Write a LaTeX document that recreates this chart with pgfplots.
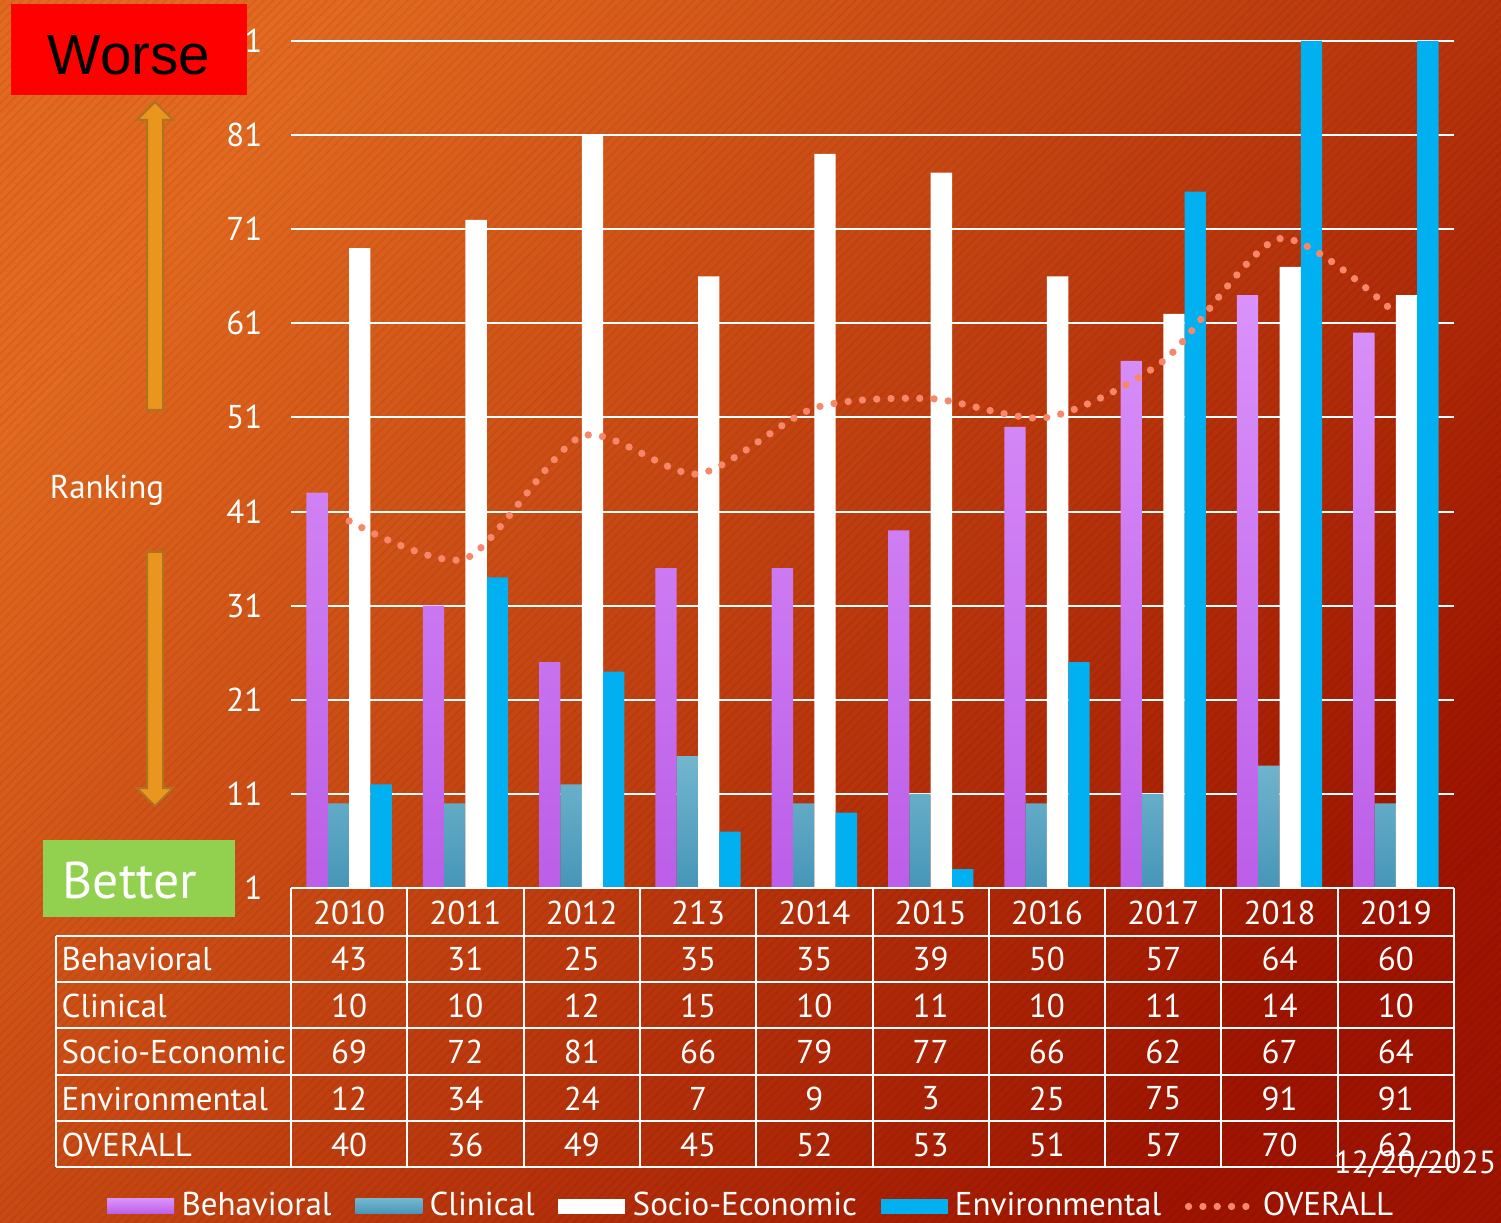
\documentclass[border=0pt]{standalone}
\usepackage{pgfplots}
\pgfplotsset{compat=1.18}
\usepackage{fontspec}
\setmainfont{PT Sans}
\newfontfamily\arialfont{Liberation Sans}
\usetikzlibrary{patterns.meta}
\definecolor{bgA}{HTML}{E2691F}
\definecolor{bgB}{HTML}{9E1400}
\definecolor{behT}{HTML}{DA92FA}
\definecolor{behB}{HTML}{BC5EE8}
\definecolor{cliT}{HTML}{72B6CE}
\definecolor{cliB}{HTML}{4696B8}
\definecolor{envC}{HTML}{00B0F0}
\definecolor{ovC}{HTML}{F7876A}
\definecolor{arrF}{HTML}{EA961E}
\definecolor{arrD}{HTML}{B07220}
\definecolor{betterG}{HTML}{92D050}
\pgfplotsset{
  barleg/.style={legend image code/.code={\path[#1] (0pt,-2.25pt) rectangle (20.1pt,2.25pt);}},
  ovleg/.style={legend image code/.code={\draw[#1] (0pt,0pt) -- (19pt,0pt);}},
}
\begin{document}
\begin{tikzpicture}
\begin{scope}[x=0.3pt,y=-0.3pt]
  \shade[top color=bgA, bottom color=bgB, shading angle=50] (0,0) rectangle (1501,1223);
  \fill[pattern={Lines[angle=45,distance=1.9pt,line width=0.6pt]}, pattern color=black, opacity=0.05] (0,0) rectangle (1501,1223);
\end{scope}
\begin{axis}[
  at={(87.3pt,-266.4pt)}, anchor=south west,
  scale only axis, width=348.9pt, height=254.1pt,
  xmin=-0.5, xmax=9.5, ymin=1, ymax=91,
  ytick={1,11,...,91}, xtick=\empty,
  axis line style={draw=none}, major tick length=0pt,
  ymajorgrids, grid style={white, line width=0.6pt},
  /pgf/number format/assume math mode=true,
  yticklabel style={text=white, font=\fontsize{9.9}{12}\selectfont, anchor=east, inner sep=0pt, xshift=-8.4pt},
  legend columns=5,
  legend style={at={(0.397,-0.376)}, anchor=center, draw=none, fill=none,
    font=\fontsize{9.9}{12}\selectfont, nodes={text=white, inner sep=1.5pt},
    /tikz/every odd column/.append style={column sep=0.7pt},
    /tikz/every even column/.append style={column sep=5.6pt}},
]
\addplot[ybar, bar width=6.4pt, bar shift=-9.6pt, draw=none, top color=behT, bottom color=behB, barleg]
  coordinates {(0,43) (1,31) (2,25) (3,35) (4,35) (5,39) (6,50) (7,57) (8,64) (9,60)};
\addlegendentry{Behavioral}
\addplot[ybar, bar width=6.4pt, bar shift=-3.2pt, draw=none, top color=cliT, bottom color=cliB, barleg]
  coordinates {(0,10) (1,10) (2,12) (3,15) (4,10) (5,11) (6,10) (7,11) (8,14) (9,10)};
\addlegendentry{Clinical}
\addplot[ybar, bar width=6.4pt, bar shift=3.2pt, draw=none, fill=white, barleg]
  coordinates {(0,69) (1,72) (2,81) (3,66) (4,79) (5,77) (6,66) (7,62) (8,67) (9,64)};
\addlegendentry{Socio-Economic}
\addplot[ybar, bar width=6.4pt, bar shift=9.6pt, draw=none, fill=envC, barleg]
  coordinates {(0,12) (1,34) (2,24) (3,7) (4,9) (5,3) (6,25) (7,75) (8,91) (9,91)};
\addlegendentry{Environmental}
\addplot[smooth, tension=0.45, draw=ovC, line width=2.2pt, line cap=round, dash pattern=on 0pt off 4.3pt, ovleg]
  coordinates {(0,40) (1,36) (2,49) (3,45) (4,52) (5,53) (6,51) (7,57) (8,70) (9,62)};
\addlegendentry{OVERALL}
\end{axis}
\begin{scope}[x=0.3pt,y=-0.3pt, every node/.style={font=\fontsize{9.9}{12}\selectfont, text=white}]
  % table grid
  \draw[white, line width=0.6pt] (291,888) -- (1454,888);
  \foreach \yy in {936,982,1028,1075,1121,1167} \draw[white, line width=0.6pt] (56,\yy) -- (1454,\yy);
  \foreach \k in {0,...,10} \draw[white, line width=0.6pt] ({291+116.3*\k},888) -- ({291+116.3*\k},1167);
  \draw[white, line width=0.6pt] (56,936) -- (56,1167);
  \foreach \lab [count=\i from 0] in {2010,2011,2012,213,2014,2015,2016,2017,2018,2019}
    \node at ({349.15+116.3*\i},913) {\lab};
  \foreach \name/\vals [count=\j] in {Behavioral/{43,31,25,35,35,39,50,57,64,60},
      Clinical/{10,10,12,15,10,11,10,11,14,10},
      Socio-Economic/{69,72,81,66,79,77,66,62,67,64},
      Environmental/{12,34,24,7,9,3,25,75,91,91},
      OVERALL/{40,36,49,45,52,53,51,57,70,62}} {
    \node[anchor=west, inner sep=0pt] at (61,{913+46.4*\j}) {\name};
    \foreach \v [count=\i from 0] in \vals
      \node at ({349.15+116.3*\i},{913+46.4*\j}) {\v};
  }
  % date
  \node[anchor=east, inner sep=0pt, font=\fontsize{9.6}{12}\selectfont] at (1497,1164) {12/20/2025};
  % arrows
  \filldraw[fill=arrF, draw=arrD, line width=0.6pt] (147,410) -- (147,120) -- (137,120) -- (155,102) -- (173,120) -- (163,120) -- (163,410) -- cycle;
  \filldraw[fill=arrF, draw=arrD, line width=0.6pt] (147,552) -- (147,788) -- (137,788) -- (155,806) -- (173,788) -- (163,788) -- (163,552) -- cycle;
  \node at (107,490) {Ranking};
  % boxes
  \fill[red] (11,4) rectangle (247,95);
  \node[text=black, font=\arialfont\fontsize{17}{20}\selectfont] at (129,55) {Worse};
  \fill[betterG] (43,840) rectangle (235,917);
  \node[font=\fontsize{15.5}{18}\selectfont] at (130,881) {Better};
  \pgfresetboundingbox
  \useasboundingbox (0,0) rectangle (1501,1223);
\end{scope}
\end{tikzpicture}
\end{document}
